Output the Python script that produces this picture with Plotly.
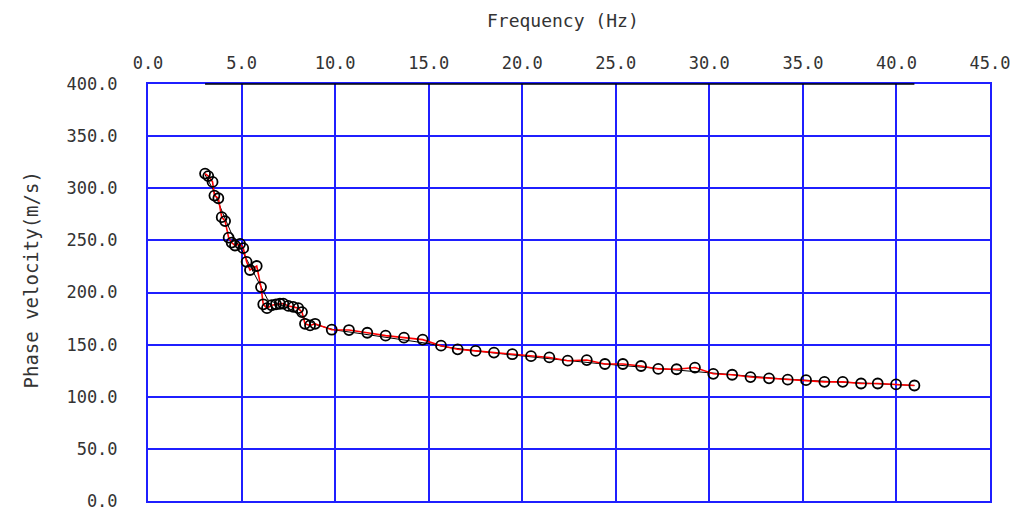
import plotly.graph_objects as go

# Observed dispersion points (circles, connected by red line)
obs_freq = [3.05, 3.22, 3.45, 3.55, 3.76, 3.94, 4.12, 4.31, 4.47, 4.65, 4.92, 5.09,
            5.27, 5.45, 5.81, 6.04, 6.16, 6.36, 6.61, 6.84, 7.05, 7.23, 7.50, 7.76,
            8.03, 8.23, 8.39, 8.66, 8.93, 9.82,
            10.74, 11.72, 12.70, 13.68, 14.68, 15.66, 16.55, 17.51, 18.49, 19.47,
            20.47, 21.45, 22.43, 23.45, 24.42, 25.38, 26.35, 27.27, 28.25, 29.23,
            30.21, 31.22, 32.20, 33.19, 34.19, 35.17, 36.15, 37.13, 38.11, 39.0,
            39.98, 40.96]
obs_vel = [314.1, 311.7, 306.1, 293.0, 290.4, 272.3, 268.5, 252.6, 247.9, 245.1, 246.7, 242.5,
           229.4, 221.6, 225.4, 205.2, 188.7, 185.0, 187.8, 188.7, 189.2, 189.4, 187.1, 186.2,
           185.0, 181.2, 170.0, 168.4, 170.0, 164.3,
           164.0, 161.4, 158.6, 156.7, 154.8, 149.0, 145.5, 144.0, 142.4, 140.8,
           138.9, 137.7, 134.6, 135.2, 131.4, 131.4, 129.5, 126.7, 126.4, 128.0,
           122.0, 121.1, 118.9, 117.7, 116.4, 115.9, 114.3, 114.3, 112.7, 112.7,
           111.8, 110.8]

# Theoretical dispersion curve (thin black line)
th_freq = [3.05, 3.5, 4.0, 4.5, 5.0, 5.45, 6.0, 6.4, 7.0, 7.5, 8.0, 8.5, 9.0, 10.0,
           11.0, 12.0, 13.0, 14.0, 15.0, 16.0, 17.0, 18.0, 19.0, 20.0, 22.0, 24.0,
           26.0, 28.0, 30.0, 32.0, 34.0, 36.0, 38.0, 40.0, 40.96]
th_vel = [313.0, 298.0, 276.0, 255.0, 241.0, 225.0, 207.0, 193.0, 189.0, 185.0, 180.0, 174.0,
          169.0, 164.0, 161.5, 159.0, 156.5, 154.0, 151.0, 147.5, 145.0, 143.0, 141.0, 139.0,
          135.5, 132.0, 129.0, 126.0, 122.5, 119.5, 117.0, 115.0, 113.0, 111.6, 110.8]

x_ticks = [0, 5, 10, 15, 20, 25, 30, 35, 40, 45]
y_ticks = [0, 50, 100, 150, 200, 250, 300, 350, 400]

FONT = "DejaVu Sans Mono, Liberation Mono, monospace"
GRID = "#1f1fff"
TXT = "#333333"

fig = go.Figure()
fig.add_trace(go.Scatter(x=th_freq, y=th_vel, mode="lines",
                         line=dict(color="black", width=1), hoverinfo="skip"))
fig.add_trace(go.Scatter(x=obs_freq, y=obs_vel, mode="lines+markers",
                         line=dict(color="red", width=1.6),
                         marker=dict(symbol="circle-open", size=10, color="black",
                                     line=dict(width=1.8, color="black"))))

# black segment on the top border spanning the data range
fig.add_shape(type="line", xref="x", yref="paper",
              x0=min(obs_freq), x1=max(obs_freq), y0=1, y1=1,
              line=dict(color="black", width=1.5), layer="above")

fig.update_layout(
    width=1024, height=522,
    margin=dict(l=148, r=34, t=84, b=11),
    paper_bgcolor="white", plot_bgcolor="white",
    showlegend=False,
    font=dict(family=FONT, size=17, color=TXT),
)
fig.update_xaxes(range=[0, 45], side="top", tickvals=x_ticks,
                 ticktext=[f"{v:.1f}" for v in x_ticks],
                 tickfont=dict(family=FONT, size=17, color=TXT),
                 showgrid=True, gridcolor=GRID, gridwidth=2,
                 showline=True, linecolor=GRID, linewidth=2, mirror=True,
                 zeroline=False, ticks="", ticklabelstandoff=6)
fig.update_yaxes(range=[0, 400], tickvals=y_ticks,
                 ticktext=[f"{v:.1f}" for v in y_ticks],
                 tickfont=dict(family=FONT, size=17, color=TXT),
                 showgrid=True, gridcolor=GRID, gridwidth=2,
                 showline=True, linecolor=GRID, linewidth=2, mirror=True,
                 zeroline=False, ticks="", ticklabelstandoff=25)

fig.add_annotation(text="Frequency (Hz)", xref="paper", yref="paper",
                   x=0.493, y=1, xanchor="center", yanchor="middle", yshift=64,
                   showarrow=False, font=dict(family=FONT, size=18, color=TXT))
fig.add_annotation(text="Phase velocity(m/s)", xref="paper", yref="paper",
                   x=0, xshift=-118, y=0.5, yshift=12, xanchor="center", yanchor="middle",
                   textangle=-90, showarrow=False,
                   font=dict(family=FONT, size=19, color=TXT))

fig.write_html("out.html")
